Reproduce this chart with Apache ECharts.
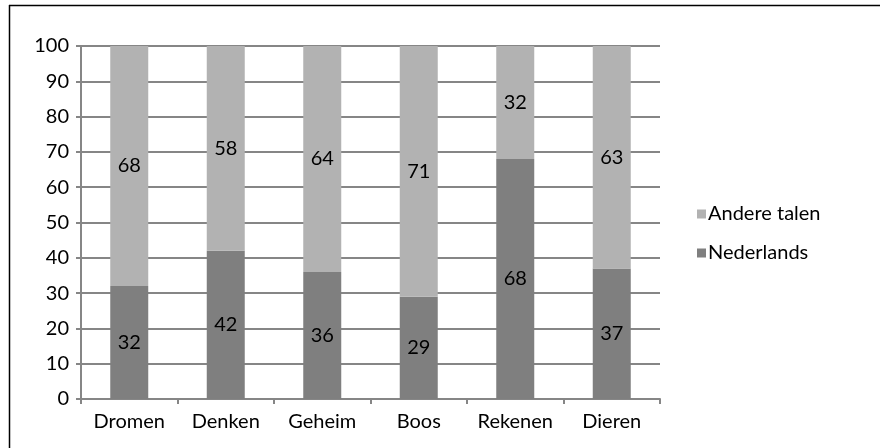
<!DOCTYPE html>
<html>
<head>
<meta charset="utf-8">
<script src="https://cdn.jsdelivr.net/npm/echarts@6/dist/echarts.min.js"></script>
<style>
  html, body { margin: 0; padding: 0; background: #fff; }
  #chart { width: 880px; height: 448px; }
</style>
</head>
<body>
<div id="chart"></div>
<script>
const categories = ['Dromen', 'Denken', 'Geheim', 'Boos', 'Rekenen', 'Dieren'];
const nederlands = [32, 42, 36, 29, 68, 37];
const andereTalen = [68, 58, 64, 71, 32, 63];

const font = 'Lato, "Open Sans", sans-serif';
const fontSize = 20;
const chart = echarts.init(document.getElementById('chart'));

chart.setOption({
    animation: false,
    backgroundColor: '#fff',
    textStyle: { fontFamily: font },
    graphic: [
        { type: 'line', shape: { x1: 9, y1: 5.5, x2: 880, y2: 5.5 }, style: { stroke: '#000', lineWidth: 1.5 } },
        { type: 'line', shape: { x1: 9.5, y1: 5, x2: 9.5, y2: 448 }, style: { stroke: '#000', lineWidth: 1.5 } }
    ],
    grid: { left: 81, right: 220, top: 46, bottom: 49 },
    legend: {
        orient: 'vertical',
        left: 692,
        top: 199,
        itemWidth: 9,
        itemHeight: 9,
        itemGap: 19,
        icon: 'rect',
        data: ['Andere talen', 'Nederlands'],
        textStyle: { fontFamily: font, fontSize: fontSize, color: '#000', padding: [0, 0, 0, -3] }
    },
    xAxis: {
        type: 'category',
        data: categories,
        axisLine: { lineStyle: { color: '#868686', width: 2 } },
        axisTick: { show: true, length: 5, lineStyle: { color: '#868686', width: 2 } },
        axisLabel: { color: '#000', fontSize: fontSize, fontFamily: font, margin: 13, interval: 0 }
    },
    yAxis: {
        type: 'value',
        min: 0,
        max: 100,
        interval: 10,
        axisLine: { show: true, lineStyle: { color: '#868686', width: 2 } },
        axisTick: { show: true, length: 5, lineStyle: { color: '#868686', width: 2 } },
        splitLine: { lineStyle: { color: '#868686', width: 2 } },
        axisLabel: { color: '#000', fontSize: fontSize, fontFamily: font, margin: 12 }
    },
    series: [
        {
            name: 'Nederlands',
            type: 'bar',
            stack: 'total',
            barWidth: 38,
            data: nederlands,
            itemStyle: { color: '#7f7f7f' },
            label: { show: true, position: 'inside', color: '#000', fontSize: fontSize, fontFamily: font }
        },
        {
            name: 'Andere talen',
            type: 'bar',
            stack: 'total',
            barWidth: 38,
            data: andereTalen,
            itemStyle: { color: '#b2b2b2' },
            label: { show: true, position: 'inside', color: '#000', fontSize: fontSize, fontFamily: font }
        }
    ]
});
</script>
</body>
</html>
